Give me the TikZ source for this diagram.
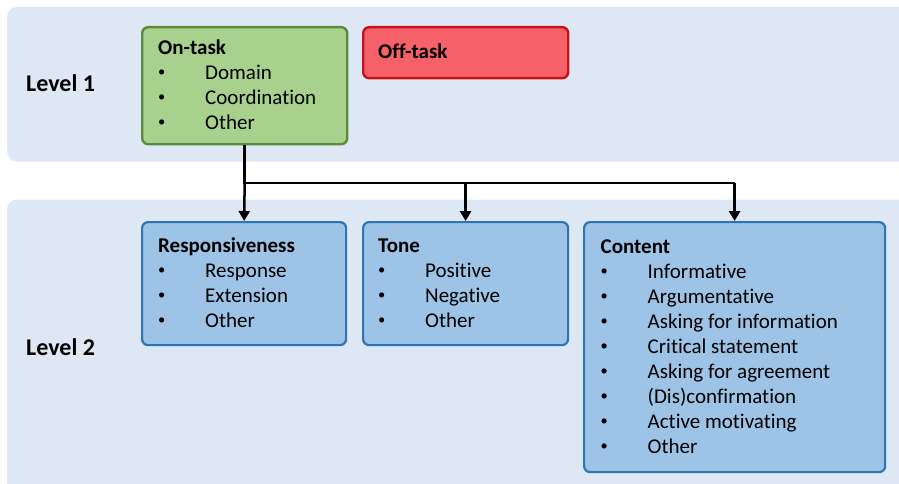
\documentclass[tikz,border=0pt]{standalone}
\usepackage{fontspec}
\setmainfont{Carlito}[Ligatures=NoCommon]
\usetikzlibrary{arrows.meta}
\definecolor{panelc}{HTML}{DEE8F4}
\definecolor{greenf}{HTML}{A9D18E}
\definecolor{greend}{HTML}{5B8A3C}
\definecolor{redf}{HTML}{F46168}
\definecolor{redd}{HTML}{C8121B}
\definecolor{bluef}{HTML}{9DC3E6}
\definecolor{blued}{HTML}{2E75B6}
\newcommand\itm[1]{\makebox[47pt][l]{\raisebox{2.6pt}{\fontsize{14.5}{14.5}\selectfont\textbullet}}#1}
\tikzset{
  panel/.style={fill=panelc, rounded corners=10pt},
  catbox/.style={rectangle, rounded corners=6pt, line width=2.4pt, anchor=north west, inner sep=0pt},
  greenbox/.style={catbox, fill=greenf, draw=greend},
  redbox/.style={catbox, fill=redf, draw=redd},
  bluebox/.style={catbox, fill=bluef, draw=blued, line width=2.2pt},
  txt/.style={anchor=base west, inner sep=0pt, font=\fontsize{21}{25}\selectfont},
  lvl/.style={anchor=base west, inner sep=0pt, font=\fontsize{24}{25}\selectfont\bfseries},
  conn/.style={line width=2.5pt, draw=black},
  arr/.style={conn, -{Triangle[width=11pt,length=10pt]}}
}
\begin{document}
\begin{tikzpicture}[x=1pt,y=-1pt]
\clip (0,0) rectangle (899,484);
\fill[panel] (7,7) rectangle (930,161.5);
\fill[panel] (7,199.5) rectangle (930,520);

\node[greenbox, minimum width=205pt, minimum height=117pt] (ontask) at (141,26) {};
\node[redbox, minimum width=205pt, minimum height=51pt] (offtask) at (362,26) {};
\node[bluebox, minimum width=204pt, minimum height=123pt] (resp) at (141,221) {};
\node[bluebox, minimum width=205pt, minimum height=123pt] (tone) at (362,221) {};
\node[bluebox, minimum width=301pt, minimum height=250pt] (content) at (583,221) {};

\node[lvl] (l1) at (26,91.7) {Level 1};
\node[lvl] (l2) at (26,355) {Level 2};

\node[txt] (ontaskT) at (158,54.5) {\parbox[t]{185pt}{\textbf{On-task}\\\itm{Domain}\\\itm{Coordination}\\\itm{Other}}};
\node[txt] (offtaskT) at (378,59) {\textbf{Off-task}};
\node[txt] (respT) at (158,252.3) {\parbox[t]{185pt}{\textbf{Responsiveness}\\\itm{Response}\\\itm{Extension}\\\itm{Other}}};
\node[txt] (toneT) at (378,252.3) {\parbox[t]{185pt}{\textbf{Tone}\\\itm{Positive}\\\itm{Negative}\\\itm{Other}}};
\node[txt] (contentT) at (600.5,253) {\parbox[t]{280pt}{\textbf{Content}\\\itm{Informative}\\\itm{Argumentative}\\\itm{Asking for information}\\\itm{Critical statement}\\\itm{Asking for agreement}\\\itm{(Dis)confirmation}\\\itm{Active motivating}\\\itm{Other}}};

\coordinate (bar) at (0,183);
\draw[conn] (ontask.south) -- (ontask.south |- bar) -- (content.north |- bar);
\draw[arr] (ontask.south |- bar) -- (resp.north);
\draw[arr] (tone.north |- bar) -- (tone.north);
\draw[arr] (content.north |- bar) -- (content.north);
\end{tikzpicture}
\end{document}
